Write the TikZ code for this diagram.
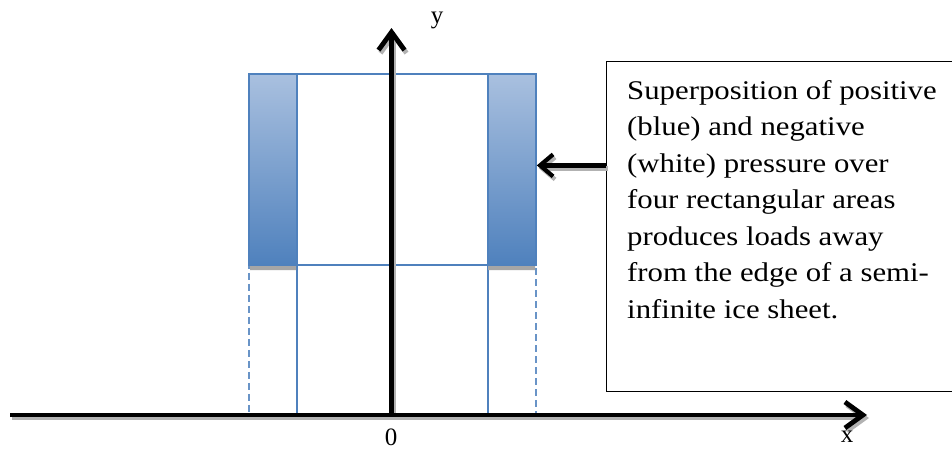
\documentclass[tikz,border=0pt]{standalone}
\usepackage{fontspec}
\setmainfont{Liberation Serif}
\newfontfamily\notefont[FakeStretch=1.14]{Liberation Serif}
\usetikzlibrary{arrows.meta,positioning}
\definecolor{edgeblue}{HTML}{4F81BD}
\definecolor{paleblue}{HTML}{A9C0DF}
\tikzset{
	stripfill/.style={top color=paleblue, bottom color=edgeblue, draw=edgeblue, line width=1.8pt, minimum width=48pt, minimum height=191pt, anchor=north west, inner sep=0pt},
	areabox/.style={draw=edgeblue, line width=1.8pt, fill=white, minimum width=191pt, anchor=north west, inner sep=0pt},
	dashbox/.style={draw=edgeblue!85, line width=1.6pt, dash pattern=on 7pt off 4pt, minimum width=48pt, minimum height=149pt, anchor=north west, inner sep=0pt},
	axisline/.style={line width=4.8pt, -{Straight Barb[length=18pt,width=26pt,line width=4.8pt]}},
	pointer/.style={line width=4.2pt, -{Straight Barb[length=13pt,width=22pt,line width=4.2pt]}},
	axislabel/.style={font=\fontsize{25}{25}\selectfont, inner sep=0pt}
}
\begin{document}
\begin{tikzpicture}[x=1pt, y=-1pt]
	\useasboundingbox[fill=white] (0,0) rectangle (952,453);
	% lower areas
	\node[dashbox] (LD) at (248,264) {};
	\node[dashbox] (RD) at (487,264) {};
	\node[areabox, minimum height=149pt] (MD) at (296,264) {};
	% shadows under the blue strips
	\fill[gray!70] (250,265) rectangle (296,270) (488,265) rectangle (535,270);
	% upper areas
	\node[stripfill] (L) at (248,73) {};
	\node[stripfill] (R) at (487,73) {};
	\node[areabox, minimum height=191pt] (M) at (296,73) {};
	% axes
	\coordinate (O) at (391.5,415); \coordinate (Xend) at (867,415);
	\coordinate (Xstart) at (10,415); \coordinate (Yend) at (391.5,28);
	\draw[axisline, gray!60] ([shift={(2pt,-3pt)}]Xstart) -- ([shift={(2pt,-3pt)}]Xend);
	\draw[axisline, gray!60] ([shift={(2pt,-3pt)}]O) -- ([shift={(2pt,-3pt)}]Yend);
	\draw[axisline] (Xstart) -- (Xend);
	\draw[axisline] (O) -- (Yend);
	\node[axislabel] (ylab) at (437,20) {y};
	\node[axislabel] (zero) at (391,437) {0};
	\node[axislabel] (xlab) at (847,437) {x};
	% note
	\node[draw, line width=1.4pt, minimum width=360pt, minimum height=330pt, anchor=north west, inner sep=0pt] (box) at (606,61) {};
	\node[anchor=north west, inner sep=0pt, align=left, font=\notefont\fontsize{27}{36.5}\selectfont] (note) at ([shift={(21pt,-19pt)}]box.north west)
		{Superposition of positive\\(blue) and negative\\(white) pressure over\\four rectangular areas\\produces loads away\\from the edge of a semi-\\infinite ice sheet.};
	\coordinate (tipR) at ([yshift=4pt]R.east);
	\draw[pointer, gray!60] ([shift={(2pt,-3pt)}]box.west |- tipR) -- ([shift={(2pt,-3pt)}]tipR);
	\draw[pointer] (box.west |- tipR) -- (tipR);
\end{tikzpicture}
\end{document}
